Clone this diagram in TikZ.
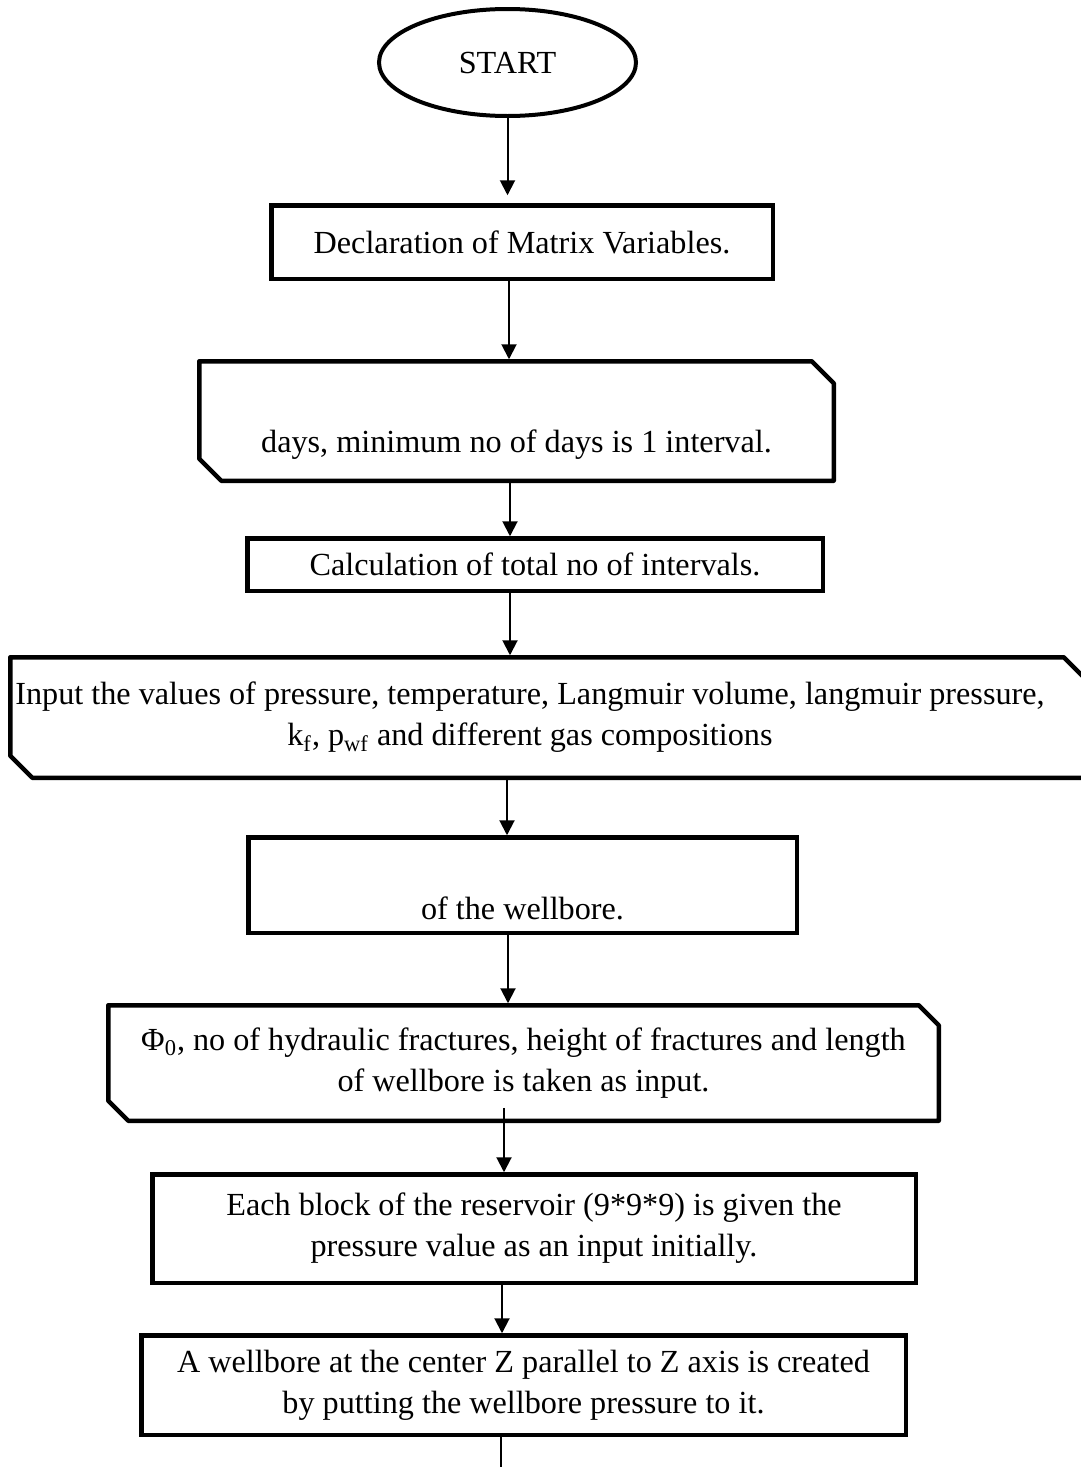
\documentclass[tikz,border=0pt]{standalone}
\usepackage{fontspec}
\setmainfont{Liberation Serif}
\usetikzlibrary{shapes, arrows.meta, calc, positioning}
\tikzset{
    x=0.5pt, y=-0.5pt, % one unit is one pixel of the chart, y grows downwards
    every node/.style={font=\fontsize{16.1pt}{20.5pt}\selectfont},
    terminal/.style={ellipse, draw, line width=2pt, minimum width=128.5pt, minimum height=53.5pt, inner sep=0pt}, % the start bubble
    process/.style={rectangle, draw, line width=2.25pt, align=center, inner sep=0pt, outer sep=0pt},
    inputbox/.style={rectangle, align=center, inner sep=0pt, outer sep=0pt}, % its cut outline is drawn below
    boxline/.style={line width=2.25pt, line join=round},
    flow/.style={-{Triangle[length=7.5pt, width=7.5pt]}, line width=1pt, shorten >=1pt}
}
\begin{document}
\begin{tikzpicture}
    \useasboundingbox (0,0) rectangle (1081,1467);
    % the boxes, from top to bottom
    \node[terminal] (start) at (507.5,62.5) {START};
    \node[process, minimum width=250.75pt, minimum height=36.75pt] (decl) at (522,242) {Declaration of Matrix Variables.};
    \node[inputbox, minimum width=317.25pt, minimum height=59.75pt] (days) at (516.5,421) {\strut\\days, minimum no of days is 1 interval.};
    \node[process, minimum width=287.75pt, minimum height=26.25pt] (calc) at (535,564.5) {Calculation of total no of intervals.};
    \node[inputbox, minimum width=537.75pt, minimum height=60.25pt,
        label={[align=center, xshift=-9pt]center:{Input the values of pressure, temperature, Langmuir volume, langmuir pressure,\\k\textsubscript{f}, p\textsubscript{wf} and different gas compositions}}] (vals) at (548,717.5) {};
    \node[process, minimum width=274.25pt, minimum height=47.75pt] (bore) at (522.5,885) {\strut\\of the wellbore.};
    \node[inputbox, minimum width=415.25pt, minimum height=57.75pt] (frac) at (523.5,1063) {Φ\textsubscript{0}, no of hydraulic fractures, height of fractures and length\\of wellbore is taken as input.};
    \node[process, minimum width=381.75pt, minimum height=54.25pt] (block) at (534,1228.5) {Each block of the reservoir (9*9*9) is given the\\pressure value as an input initially.};
    \node[process, minimum width=382.25pt, minimum height=49.75pt] (well) at (523.5,1385) {A wellbore at the center Z parallel to Z axis is created\\by putting the wellbore pressure to it.};
    \coordinate (out) at (501,1467);
    % input boxes have their top right and bottom left corners cut off
    \draw[boxline] (days.north west) -- ([xshift=-11pt]days.north east) -- ([yshift=-11pt]days.north east) -- (days.south east) -- ([xshift=11pt]days.south west) -- ([yshift=11pt]days.south west) -- cycle;
    \draw[boxline] (vals.north west) -- ([xshift=-11pt]vals.north east) -- ([yshift=-11pt]vals.north east) -- (vals.south east) -- ([xshift=11pt]vals.south west) -- ([yshift=11pt]vals.south west) -- cycle;
    \draw[boxline] (frac.north west) -- ([xshift=-10pt]frac.north east) -- ([yshift=-10pt]frac.north east) -- (frac.south east) -- ([xshift=10pt]frac.south west) -- ([yshift=10pt]frac.south west) -- cycle;
    % the connectors
    \draw[flow, shorten >=5pt] (start.south) -- (start.south |- decl.north);
    \draw[flow] (decl.south -| 509,0) -- (days.north -| 509,0);
    \draw[flow] (days.south -| 510,0) -- (calc.north -| 510,0);
    \draw[flow] (calc.south -| 510,0) -- (vals.north -| 510,0);
    \draw[flow] (vals.south -| 507,0) -- (bore.north -| 507,0);
    \draw[flow] (bore.south -| 508,0) -- (frac.north -| 508,0);
    \draw[flow] ($(frac.south -| 504,0)+(0,-13)$) -- (block.north -| 504,0);
    \draw[flow] (block.south -| 502,0) -- (well.north -| 502,0);
    \draw[line width=1pt] (well.south -| out) -- (out);
\end{tikzpicture}
\end{document}
